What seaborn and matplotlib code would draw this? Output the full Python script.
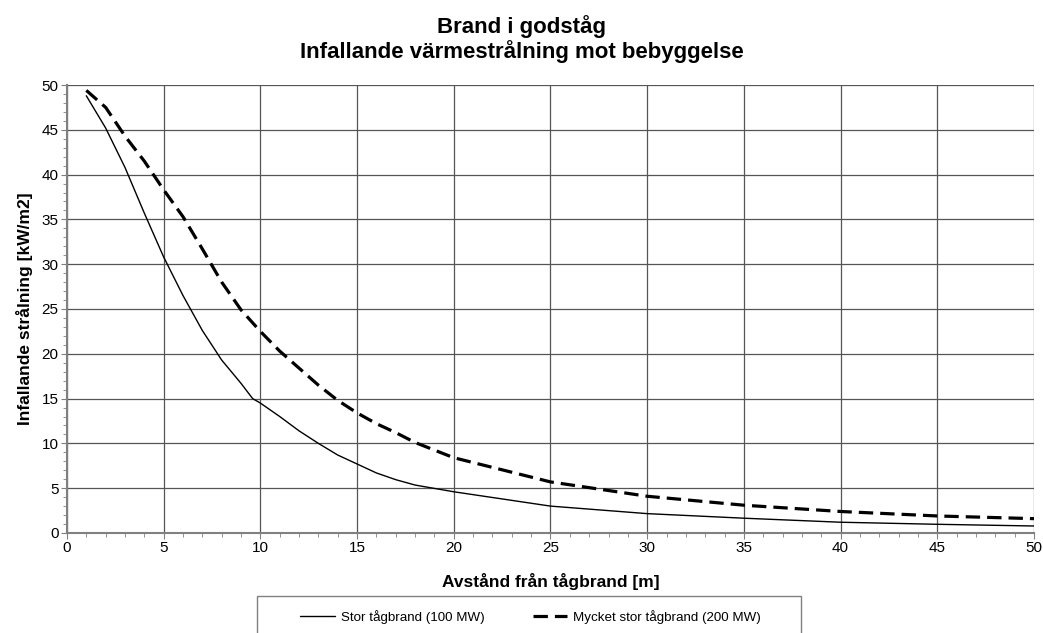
import matplotlib
matplotlib.use("Agg")
import matplotlib.pyplot as plt
import seaborn as sns
from matplotlib.ticker import MultipleLocator
from matplotlib.patches import Rectangle

x_stor = [1, 2, 3, 4, 5, 6, 7, 8, 9, 9.6, 10, 11, 12, 13, 14, 15, 16, 17, 18, 20, 25, 30, 35, 40, 45, 50]
y_stor = [48.8, 45.2, 40.8, 35.7, 30.8, 26.5, 22.6, 19.3, 16.7, 15.0, 14.5, 13.0, 11.4, 10.0, 8.7,
          7.7, 6.7, 5.95, 5.35, 4.6, 3.0, 2.16, 1.65, 1.2, 0.97, 0.78]
x_mycket = [1, 2, 3, 4, 5, 6, 7, 8, 9, 10, 11, 12, 13, 14, 15, 16, 17, 18, 20, 25, 30, 35, 40, 45, 50]
y_mycket = [49.4, 47.5, 44.3, 41.5, 38.3, 35.3, 31.7, 28.0, 24.9, 22.5, 20.3, 18.4, 16.5, 14.8,
            13.4, 12.2, 11.2, 10.1, 8.4, 5.7, 4.1, 3.1, 2.4, 1.9, 1.6]
label_stor = "Stor tågbrand (100 MW)"
label_mycket = "Mycket stor tågbrand (200 MW)"

sns.set_style("white")
plt.rcParams['font.family'] = ['Liberation Sans', 'DejaVu Sans']
plt.rcParams['text.color'] = 'black'
plt.rcParams['axes.labelcolor'] = 'black'
plt.rcParams['xtick.color'] = 'black'
plt.rcParams['ytick.color'] = 'black'

fig = plt.figure(figsize=(10.43, 6.33), dpi=100)
ax = fig.add_axes([0.0642, 0.158, 0.9272, 0.7077])

sns.lineplot(x=x_stor, y=y_stor, ax=ax, color="black", linewidth=1.0, label=label_stor)
sns.lineplot(x=x_mycket, y=y_mycket, ax=ax, color="black", linewidth=2.3, label=label_mycket)
ax.lines[1].set_dashes([4.5, 2.2])

ax.set_xlim(0, 50)
ax.set_ylim(0, 50)
ax.xaxis.set_major_locator(MultipleLocator(5))
ax.yaxis.set_major_locator(MultipleLocator(5))
ax.xaxis.set_minor_locator(MultipleLocator(1))
ax.yaxis.set_minor_locator(MultipleLocator(1))
ax.grid(True, which="major", color="#555555", linewidth=0.9)
ax.tick_params(which="major", direction="out", length=4, color="#808080", labelsize=11, pad=2,
               left=True, bottom=True)
ax.tick_params(which="minor", direction="out", length=3, color="#808080", left=True, bottom=True)
for side in ["top", "right"]:
    ax.spines[side].set_visible(False)
for side in ["left", "bottom"]:
    ax.spines[side].set_color("#808080")
    ax.spines[side].set_linewidth(1.5)

ax.set_xlabel("Avstånd från tågbrand [m]", fontsize=12.5, fontweight="bold", labelpad=13)
ax.set_ylabel("Infallande strålning [kW/m2]", fontsize=12.5, fontweight="bold", labelpad=6)
fig.suptitle("Brand i godståg\nInfallande värmestrålning mot bebyggelse", fontsize=16,
             fontweight="bold", y=0.976, linespacing=1.12)

# legend: frame box drawn separately, entries centred inside
ax.legend_.remove()
fig.patches.append(Rectangle((0.2464, -0.05), 0.5216, 0.1085, transform=fig.transFigure,
                             facecolor="none", edgecolor="#808080", linewidth=1.0))
h, l = ax.get_legend_handles_labels()
fig.legend(h, l, loc="center", bbox_to_anchor=(0.509, 0.026), ncol=2, fontsize=9.6,
           frameon=False, handlelength=2.6, handletextpad=0.45, columnspacing=3.6)

fig.savefig("out.png", dpi=100)
